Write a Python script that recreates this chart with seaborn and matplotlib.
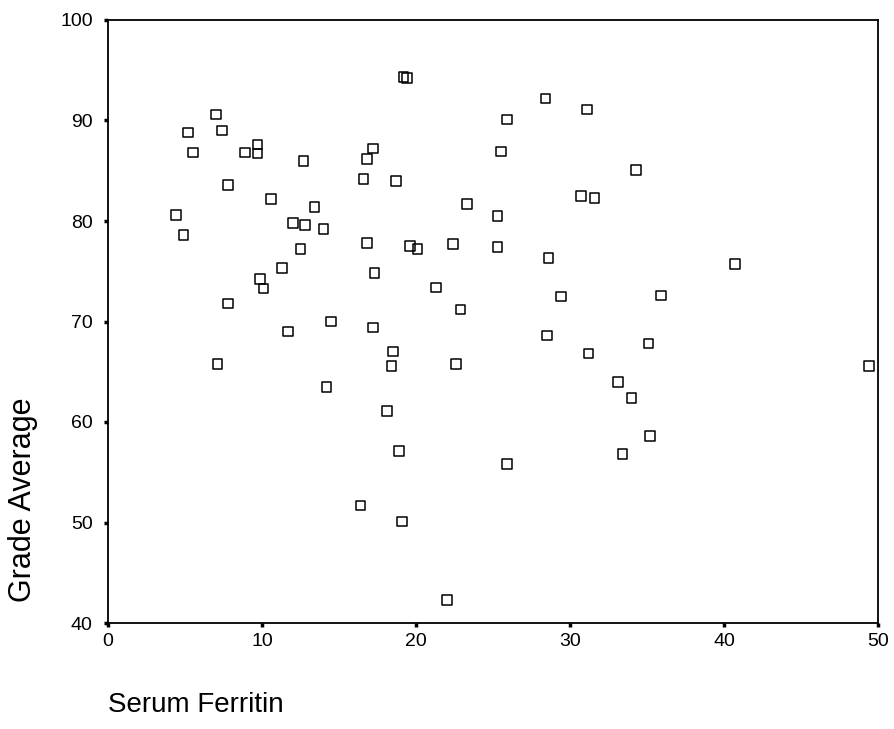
import matplotlib
matplotlib.use("Agg")
import matplotlib.pyplot as plt
import seaborn as sns
import pandas as pd

serum_ferritin = [
    7.0, 5.2, 7.4, 5.5, 8.9, 9.7, 9.7, 12.7, 17.2, 16.8, 16.6, 18.7, 19.2, 19.4,
    25.5, 7.8, 10.6, 4.4, 4.9, 13.4, 12.0, 12.8, 14.0, 12.5, 16.8, 19.6, 20.1,
    22.4, 23.3, 25.3, 25.3, 11.3, 17.3, 9.85, 10.1, 21.3, 7.8, 22.9, 14.5, 17.2,
    11.7, 18.5, 7.1, 18.4, 22.6, 14.2, 18.1, 18.9, 16.4, 19.1, 22.0,
    28.4, 31.1, 25.9, 34.3, 30.7, 31.6, 28.6, 40.7, 29.4, 35.9,
    28.5, 35.1, 31.2, 49.4, 33.1, 34.0, 35.2, 33.4, 25.9,
]
grade_average = [
    90.6, 88.8, 89.0, 86.8, 86.8, 87.6, 86.7, 86.0, 87.2, 86.2, 84.2, 84.0, 94.3, 94.2,
    86.9, 83.6, 82.2, 80.6, 78.6, 81.4, 79.8, 79.6, 79.2, 77.2, 77.8, 77.5, 77.2,
    77.7, 81.7, 80.5, 77.4, 75.3, 74.8, 74.2, 73.3, 73.4, 71.8, 71.2, 70.0, 69.4,
    69.0, 67.0, 65.8, 65.6, 65.8, 63.5, 61.1, 57.1, 51.7, 50.1, 42.3,
    92.2, 91.1, 90.1, 85.1, 82.5, 82.3, 76.3, 75.7, 72.5, 72.6,
    68.6, 67.8, 66.8, 65.6, 64.0, 62.4, 58.6, 56.8, 55.8,
]
x_ticks = [0, 10, 20, 30, 40, 50]
y_ticks = [40, 50, 60, 70, 80, 90, 100]

df = pd.DataFrame({"Serum Ferritin": serum_ferritin, "Grade Average": grade_average})

sns.set_style("white")
plt.rcParams["font.family"] = ["Liberation Sans", "DejaVu Sans"]
plt.rcParams["text.color"] = "black"
plt.rcParams["xtick.color"] = "black"
plt.rcParams["ytick.color"] = "black"

fig = plt.figure(figsize=(8.94, 7.29), dpi=100)
ax = fig.add_axes([108 / 894, 1 - 623 / 729, (878 - 108) / 894, (623 - 20) / 729])

sns.scatterplot(data=df, x="Serum Ferritin", y="Grade Average", ax=ax,
                marker="s", s=48, facecolor="none", edgecolor="black",
                linewidth=1.1, legend=False)

ax.set_xlim(0, 50)
ax.set_ylim(40, 100)
ax.set_xticks(x_ticks)
ax.set_yticks(y_ticks)
ax.tick_params(axis="both", direction="out", length=3, width=2.5,
               colors="black", labelcolor="black", labelsize=14,
               bottom=True, left=True, top=False, right=False)
ax.tick_params(axis="y", pad=8)
ax.tick_params(axis="x", pad=4)
for sp in ax.spines.values():
    sp.set_color("black")
    sp.set_linewidth(1.3)
    sp.set_visible(True)

ax.set_xlabel("")
ax.set_ylabel("")
fig.text(23 / 894, 1 - 500 / 729, "Grade Average", rotation=90, fontsize=22,
         ha="center", va="center", color="black")
fig.text(108 / 894, 1 - 705 / 729, "Serum Ferritin", fontsize=20,
         ha="left", va="center", color="black")

fig.savefig("out.png", dpi=100, facecolor="white")
